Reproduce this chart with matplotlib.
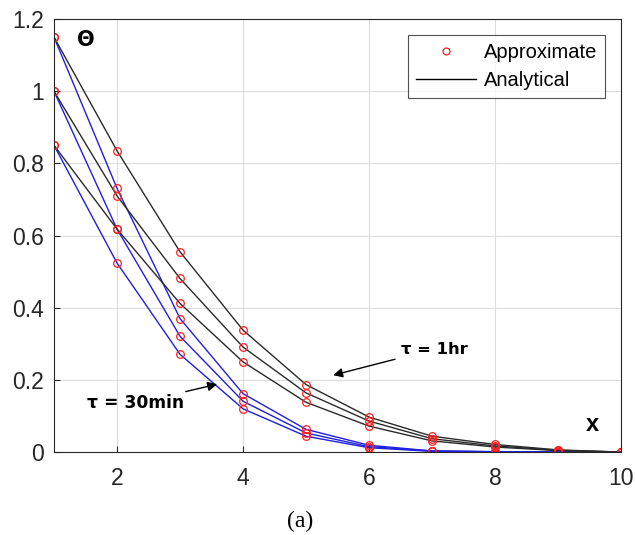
import matplotlib
matplotlib.use("Agg")
import matplotlib.pyplot as plt

plt.rcParams["font.family"] = ["Liberation Sans", "DejaVu Sans"]

x = [1, 2, 3, 4, 5, 6, 7, 8, 9, 10]

# tau = 1hr (analytical, black)
hr_top = [1.15, 0.835, 0.555, 0.338, 0.187, 0.097, 0.044, 0.021, 0.006, 0.0]
hr_mid = [1.00, 0.710, 0.481, 0.291, 0.164, 0.086, 0.037, 0.017, 0.005, 0.0]
hr_low = [0.85, 0.618, 0.412, 0.250, 0.138, 0.072, 0.031, 0.014, 0.004, 0.0]

# tau = 30min (blue)
min_top = [1.15, 0.731, 0.370, 0.162, 0.063, 0.019, 0.003, 0.001, 0.0, 0.0]
min_mid = [1.00, 0.618, 0.321, 0.141, 0.053, 0.015, 0.003, 0.001, 0.0, 0.0]
min_low = [0.85, 0.524, 0.271, 0.120, 0.044, 0.012, 0.002, 0.001, 0.0, 0.0]

fig = plt.figure(figsize=(6.35, 5.35), dpi=100)
ax = fig.add_axes([0.085, 0.155, 0.893, 0.8095])

for y in [min_top, min_mid, min_low]:
    ax.plot(x, y, color="#1f1fe0", lw=1.0)
for y in [hr_top, hr_mid, hr_low]:
    ax.plot(x, y, color="#2a2a2a", lw=1.0)

marker_kw = dict(ls="none", marker="o", ms=5.5, mfc="none", mec="#ff2020", mew=0.9)
all_series = [hr_top, hr_mid, hr_low, min_top, min_mid, min_low]
for i, y in enumerate(all_series):
    ax.plot(x, y, label="Approximate" if i == 0 else None, **marker_kw)
ax.plot([], [], color="black", lw=1.0, label="Analytical")

ax.set_xlim(1, 10)
ax.set_ylim(0, 1.2)
ax.set_xticks([2, 4, 6, 8, 10])
ax.set_yticks([0, 0.2, 0.4, 0.6, 0.8, 1.0, 1.2])
ax.set_yticklabels(["0", "0.2", "0.4", "0.6", "0.8", "1", "1.2"])
ax.tick_params(direction="in", labelsize=16.5, colors="#262626", length=4)
ax.tick_params(axis="y", pad=7)
ax.tick_params(axis="x", pad=11)
ax.grid(True, color="#dcdcdc", lw=0.8)
for s in ax.spines.values():
    s.set_color("#262626")
    s.set_linewidth(0.8)

ax.text(1.37, 1.142, "Θ", fontsize=15, fontweight="bold", va="center",
        family=["DejaVu Sans"])
ax.text(9.54, 0.077, "x", fontsize=17, fontweight="bold", va="center", ha="center")

ax.annotate("τ = 1hr", xy=(5.43, 0.213), xytext=(6.5, 0.285),
            fontsize=11.8, fontweight="bold", va="center", ha="left",
            family=["DejaVu Sans"],
            arrowprops=dict(arrowstyle="-|>", color="black", lw=1.0,
                            mutation_scale=14, shrinkA=2, shrinkB=0))
ax.annotate("τ = 30min", xy=(3.59, 0.188), xytext=(1.52, 0.135),
            fontsize=12.3, fontweight="bold", va="center", ha="left",
            family=["DejaVu Sans"],
            arrowprops=dict(arrowstyle="-|>", color="black", lw=1.0,
                            mutation_scale=14, shrinkA=0, shrinkB=0))

leg = ax.legend(loc="upper right", fontsize=14.5, frameon=True, fancybox=False,
                edgecolor="#262626", borderaxespad=0.8, handlelength=3.0,
                handletextpad=0.35, borderpad=0.4, labelspacing=0.42)
leg.get_frame().set_linewidth(0.8)
leg.legend_handles[0].set_markersize(5)

fig.text(0.472, 0.025, "(a)", fontsize=17, family=["Liberation Serif"],
         ha="center", va="center")

fig.savefig("out.png", dpi=100)
